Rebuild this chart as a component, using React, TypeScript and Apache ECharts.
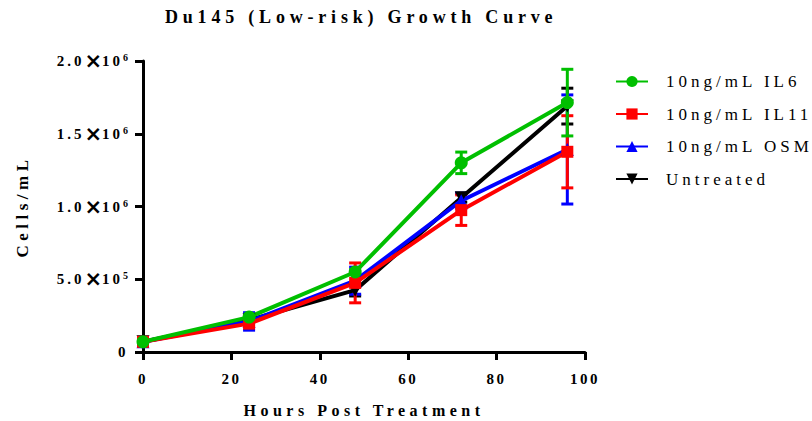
import React, { useEffect, useRef } from "react";
import * as echarts from "echarts";

// Sampling times (hours after treatment)
const hours = [0, 24, 48, 72, 96];

// Mean cell counts (cells/mL) and standard deviations per condition
const il6Mean = [70000, 240000, 550000, 1300000, 1714000];
const il6Sd = [4000, 10000, 15000, 74000, 229000];

const il11Mean = [70000, 195000, 475000, 975000, 1376000];
const il11Sd = [4000, 15000, 137000, 105000, 248000];

const osmMean = [70000, 210000, 490000, 1040000, 1392000];
const osmSd = [4000, 60000, 93000, 52000, 375000];

const untreatedMean = [70000, 220000, 425000, 1060000, 1690000];
const untreatedSd = [4000, 15000, 40000, 30000, 123000];

const seriesNames = ["10ng/mL IL6", "10ng/mL IL11", "10ng/mL OSM", "Untreated"];
const xTicks = [0, 20, 40, 60, 80, 100];
const yTicks = [0, 500000, 1000000, 1500000, 2000000];

const TITLE = "Du145 (Low-risk) Growth Curve";
const X_NAME = "Hours Post Treatment";
const Y_NAME = "Cells/mL";

const SERIF = "'Liberation Serif', 'Times New Roman', serif";

// Extra tracking applied to the SVG text nodes after rendering
const spacing: Record<string, number> = {
  [TITLE]: 4.8,
  [X_NAME]: 4.5,
  [Y_NAME]: 4.5,
};
seriesNames.forEach((n) => (spacing[n] = 4));
xTicks.forEach((t) => (spacing[String(t)] = 2.5));
yTicks.forEach((v) => {
  if (v > 0) {
    const exp = Math.floor(Math.log10(v));
    spacing[(v / Math.pow(10, exp)).toFixed(1)] = 3;
  }
});
spacing["10"] = 3;

function applySpacing(root: HTMLElement) {
  root.querySelectorAll("text").forEach((t) => {
    const s = spacing[(t.textContent || "").trim()];
    if (s !== undefined) t.setAttribute("letter-spacing", String(s));
  });
}

function yLabel(v: number): string {
  if (v === 0) return "{z|0}";
  const exp = Math.floor(Math.log10(v));
  const mant = (v / Math.pow(10, exp)).toFixed(1);
  return `{m|${mant}}{x|×}{t|10}{s|${exp}}`;
}

type Cond = { name: string; mean: number[]; sd: number[]; color: string; symbol: string; size: number; rotate: number };

const conditions: Cond[] = [
  { name: seriesNames[3], mean: untreatedMean, sd: untreatedSd, color: "#000000", symbol: "triangle", size: 13, rotate: 180 },
  { name: seriesNames[2], mean: osmMean, sd: osmSd, color: "#0000FF", symbol: "triangle", size: 13, rotate: 0 },
  { name: seriesNames[1], mean: il11Mean, sd: il11Sd, color: "#FF0000", symbol: "rect", size: 12, rotate: 0 },
  { name: seriesNames[0], mean: il6Mean, sd: il6Sd, color: "#00BF00", symbol: "circle", size: 13, rotate: 0 },
];

function buildSeries(): any[] {
  const out: any[] = [];
  conditions.forEach((c) => {
    out.push({
      type: "custom",
      silent: true,
      data: hours.map((h, i) => [h, c.mean[i] - c.sd[i], c.mean[i] + c.sd[i]]),
      encode: { x: 0, y: [1, 2] },
      renderItem: (_p: any, api: any) => {
        const x = api.value(0);
        const top = api.coord([x, api.value(2)]);
        const bot = api.coord([x, api.value(1)]);
        const w = 6;
        const style = { stroke: c.color, lineWidth: 3 };
        return {
          type: "group",
          children: [
            { type: "line", shape: { x1: top[0], y1: top[1], x2: bot[0], y2: bot[1] }, style },
            { type: "line", shape: { x1: top[0] - w, y1: top[1], x2: top[0] + w, y2: top[1] }, style },
            { type: "line", shape: { x1: bot[0] - w, y1: bot[1], x2: bot[0] + w, y2: bot[1] }, style },
          ],
        };
      },
    });
    out.push({
      type: "line",
      name: c.name,
      data: hours.map((h, i) => [h, c.mean[i]]),
      symbol: c.symbol,
      symbolSize: c.size,
      symbolRotate: c.rotate,
      showAllSymbol: true,
      color: c.color,
      lineStyle: { color: c.color, width: 4 },
      itemStyle: { color: c.color },
      emphasis: { disabled: true },
    });
  });
  return out;
}

const labelBase = { fontFamily: SERIF, fontWeight: "bold", fontSize: 15, color: "#000", lineHeight: 17 };

export default function App() {
  const ref = useRef<HTMLDivElement>(null);

  useEffect(() => {
    if (!ref.current) return;
    const el = ref.current;
    const chart = echarts.init(el, undefined, { renderer: "svg" });
    chart.setOption({
      animation: false,
      backgroundColor: "#ffffff",
      title: {
        text: TITLE,
        left: 165,
        top: 8,
        padding: 0,
        textStyle: { fontFamily: SERIF, fontWeight: "bold", fontSize: 18, color: "#000" },
      },
      legend: {
        orient: "vertical",
        left: 615,
        top: 73,
        padding: 0,
        itemWidth: 32,
        itemHeight: 14,
        itemGap: 15.5,
        data: seriesNames,
        selectedMode: false,
        textStyle: { fontFamily: SERIF, fontSize: 17, color: "#000", padding: [0, 0, 0, 13] },
      },
      grid: { left: 143, right: 227, top: 61, bottom: 69, outerBoundsMode: "none" },
      xAxis: {
        type: "value",
        min: 0,
        max: 100,
        interval: 20,
        name: X_NAME,
        nameLocation: "middle",
        nameGap: 50,
        nameTextStyle: { fontFamily: SERIF, fontWeight: "bold", fontSize: 16, color: "#000" },
        axisLine: { show: true, onZero: false, lineStyle: { color: "#000", width: 3 } },
        axisTick: { show: true, length: 8, lineStyle: { color: "#000", width: 3 } },
        axisLabel: {
          margin: 19,
          fontFamily: SERIF,
          fontWeight: "bold",
          fontSize: 15,
          color: "#000",
          customValues: xTicks,
        },
        splitLine: { show: false },
      },
      yAxis: {
        type: "value",
        min: 0,
        max: 2000000,
        interval: 500000,
        name: Y_NAME,
        nameLocation: "middle",
        nameGap: 112,
        nameRotate: 90,
        nameTextStyle: { fontFamily: SERIF, fontWeight: "bold", fontSize: 17, color: "#000" },
        axisLine: { show: true, onZero: false, lineStyle: { color: "#000", width: 3 } },
        axisTick: { show: true, length: 8, lineStyle: { color: "#000", width: 3 } },
        axisLabel: {
          margin: 15,
          formatter: (v: number) => (yTicks.includes(v) ? yLabel(v) : ""),
          rich: {
            z: { ...labelBase },
            m: { ...labelBase, padding: [0, 0, 0, 9] },
            t: { ...labelBase, padding: [0, 0, 0, 6] },
            x: { fontFamily: "'DejaVu Sans', sans-serif", fontWeight: "bold", fontSize: 21, color: "#000", lineHeight: 17 },
            s: { fontFamily: SERIF, fontWeight: "bold", fontSize: 10, color: "#000", lineHeight: 10, verticalAlign: "top" },
          },
        },
        splitLine: { show: false },
      },
      series: buildSeries(),
    });
    applySpacing(el);
    chart.on("finished", () => applySpacing(el));
    const raf = requestAnimationFrame(() => applySpacing(el));
    return () => {
      cancelAnimationFrame(raf);
      chart.dispose();
    };
  }, []);

  return (
    <div
      ref={ref}
      style={{ position: "fixed", left: 0, top: 0, width: 812, height: 421, background: "#fff" }}
    />
  );
}
